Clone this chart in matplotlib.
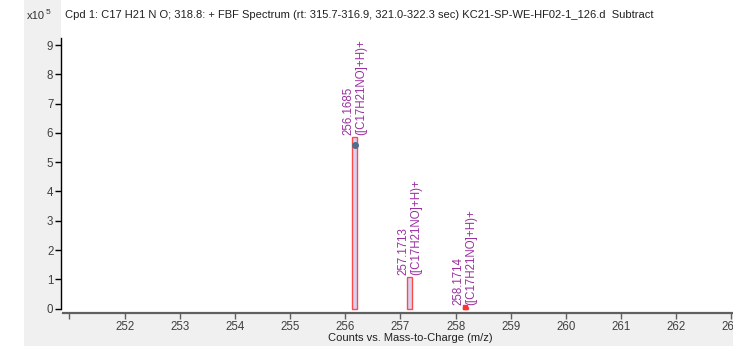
import matplotlib
matplotlib.use("Agg")
import matplotlib.pyplot as plt
from matplotlib.patches import Rectangle

plt.rcParams['font.family'] = ['Liberation Sans', 'DejaVu Sans']

# ---- data ----
peak_mz = [256.1685, 257.1713, 258.1714]
peak_counts = [5.86, 1.07, 0.04]          # x10^5
peak_labels = ["256.1685\n([C17H21NO]+H)+",
               "257.1713\n([C17H21NO]+H)+",
               "258.1714\n([C17H21NO]+H)+"]
pred_mz = [256.1685]
pred_counts = [5.58]
small_mz = [258.1714]
small_counts = [0.05]
xticks = list(range(251, 264))
xticklabels = [""] + [str(v) for v in range(252, 264)]
yticks = list(range(0, 10))

title = ("Cpd 1: C17 H21 N O; 318.8: + FBF Spectrum (rt: 315.7-316.9, "
         "321.0-322.3 sec) KC21-SP-WE-HF02-1_126.d  Subtract")

W, H = 733, 346
fig = plt.figure(figsize=(W / 100, H / 100), dpi=100)
fig.patch.set_facecolor('white')

gray = '#f0f0f0'
# gray strips (left and bottom)
fig.patches.append(Rectangle((24 / W, 0), (61 - 24) / W, 1, transform=fig.transFigure,
                             facecolor=gray, edgecolor='none', zorder=-10))
fig.patches.append(Rectangle((24 / W, 0), 1 - 24 / W, (346 - 313) / H, transform=fig.transFigure,
                             facecolor=gray, edgecolor='none', zorder=-10))

ax = fig.add_axes([61 / W, (346 - 313) / H, 1 - 61 / W, 313 / H])
ax.set_zorder(5)
ax.patch.set_alpha(0)

ax.bar(peak_mz, peak_counts, width=0.09, facecolor='#d4d4f4', edgecolor='#ff4a4a',
       linewidth=1.0, zorder=3)
ax.plot(pred_mz, pred_counts, 'o', color='#4f6e8c', markersize=4, zorder=4)
ax.plot(small_mz, small_counts, 's', color='#ff3030', markersize=2.5, zorder=4)

for x, y, lab in zip(peak_mz, peak_counts, peak_labels):
    ax.annotate(lab, xy=(x, y), xytext=(0, 1.5), textcoords='offset points',
                rotation=90, ha='center', va='bottom', multialignment='left',
                fontsize=8.3, color='#9a2fa0', linespacing=1.05, zorder=5)

ax.set_xlim(250.846, 263.03)
ax.set_ylim(-0.15, 10.54)

for s in ['top', 'right']:
    ax.spines[s].set_visible(False)
ax.spines['left'].set_bounds(0, 9.24)
ax.spines['left'].set_color('black')
ax.spines['left'].set_linewidth(1.0)
ax.spines['bottom'].set_bounds(250.89, 263.1)
ax.spines['bottom'].set_color('#606060')
ax.spines['bottom'].set_linewidth(1.6)

ax.set_xticks(xticks)
ax.set_xticklabels(xticklabels)
ax.set_yticks(yticks)
ax.tick_params(axis='y', length=4, width=1, color='black', pad=1.5,
               labelsize=8.3, labelcolor='#404040')
ax.tick_params(axis='x', length=4, width=1, color='#606060', pad=1.5,
               labelsize=8.3, labelcolor='#404040')

fig.text(65 / W, 1 - 15 / H, title, ha='left', va='center', fontsize=8, color='#202020')
fig.text(27 / W, 1 - 16 / H, "x10", ha='left', va='center', fontsize=8, color='#303030')
fig.text(46 / W, 1 - 12 / H, "5", ha='left', va='center', fontsize=6, color='#303030')
fig.text(410 / W, 1 - 338 / H, "Counts vs. Mass-to-Charge (m/z)", ha='center', va='center',
         fontsize=8, color='#202020')

fig.savefig('out.png', dpi=100, facecolor=fig.get_facecolor())
